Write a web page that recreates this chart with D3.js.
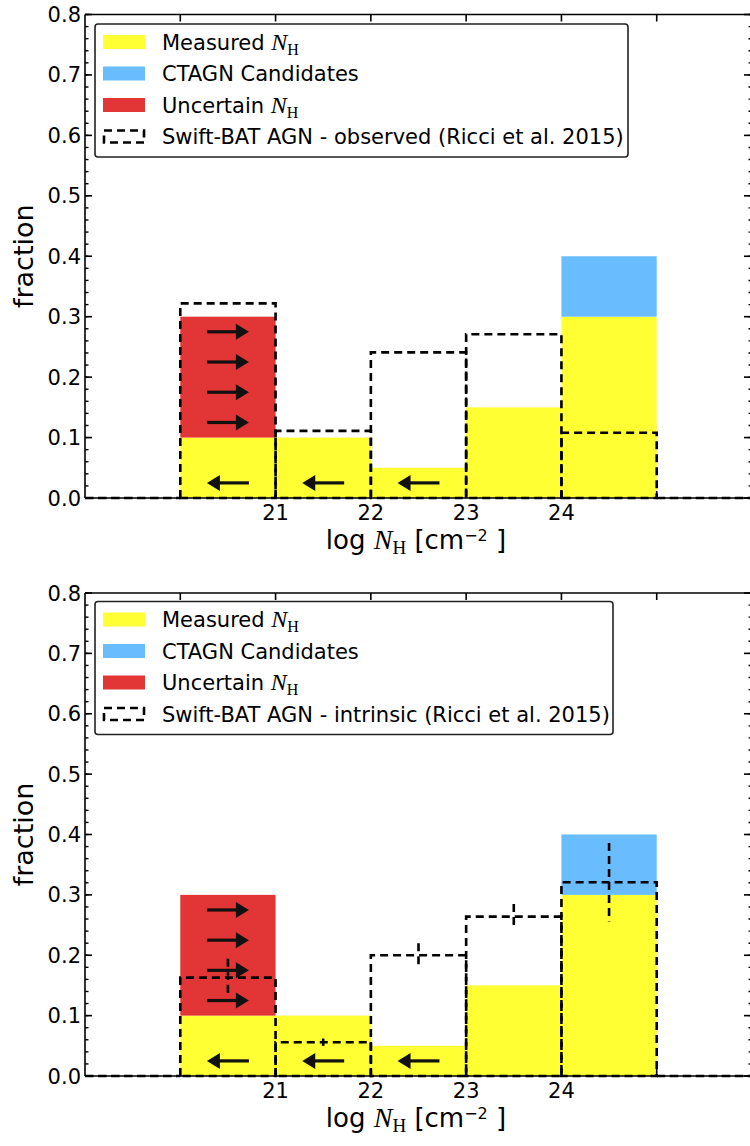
<!DOCTYPE html>
<html><head><meta charset="utf-8">
<script src="https://cdn.jsdelivr.net/npm/d3@7"></script>
<style>
html,body{margin:0;padding:0;background:#fff;}
svg{display:block;}
text{font-family:"DejaVu Sans",sans-serif;fill:#000;}
</style></head>
<body>
<svg id="chart" width="750" height="1146"></svg>
<script>
// ---------- data ----------
const binStarts = [20, 21, 22, 23, 24];
const measured = [0.10, 0.10, 0.05, 0.15, 0.30];
const uncertain = [0.20, 0, 0, 0, 0];
const ctagn = [0, 0, 0, 0, 0.10];

const ricciStarts = [19, 20, 21, 22, 23, 24, 25];
const ricciObserved = [0, 0.322, 0.111, 0.241, 0.271, 0.108, 0];
const ricciIntrinsic = [0, 0.163, 0.056, 0.200, 0.264, 0.321, 0];
const ricciIntrinsicErr = [0, 0.031, 0.006, 0.020, 0.021, 0.065, 0];

const arrowRightY = [0.275, 0.225, 0.175, 0.125];
const arrowRightBins = [20];
const arrowLeftY = [0.025];
const arrowLeftBins = [20, 21, 22];

const xTicks = [20, 21, 22, 23, 24, 25];
const xTickLabels = [21, 22, 23, 24];
const yMajor = [0, 0.1, 0.2, 0.3, 0.4, 0.5, 0.6, 0.7, 0.8];
const yMinor = d3.range(0, 0.8001, 0.02);

const legendLabelsTop = ["Measured", "CTAGN Candidates", "Uncertain", "Swift-BAT AGN - observed (Ricci et al. 2015)"];
const legendLabelsBottom = ["Measured", "CTAGN Candidates", "Uncertain", "Swift-BAT AGN - intrinsic (Ricci et al. 2015)"];

const colors = {measured: "#ffff33", ctagn: "#69bcfd", uncertain: "#e23535"};

// ---------- drawing ----------
const svg = d3.select("#chart");
const xLeft = 85, xRight = 752;
const x = d3.scaleLinear().domain([19, 26]).range([xLeft, xRight]);
const FS = 21;

function panel(top, bottom, ricci, ricciErr, legendLabels, legendBox) {
  const y = d3.scaleLinear().domain([0, 0.8]).range([bottom, top]);
  const g = svg.append("g");

  // stacked fills
  binStarts.forEach((b, i) => {
    g.append("rect").attr("x", x(b)).attr("width", x(b + 1) - x(b))
      .attr("y", y(measured[i])).attr("height", y(0) - y(measured[i]))
      .attr("fill", colors.measured);
    if (uncertain[i] > 0) g.append("rect").attr("x", x(b)).attr("width", x(b + 1) - x(b))
      .attr("y", y(measured[i] + uncertain[i])).attr("height", y(measured[i]) - y(measured[i] + uncertain[i]))
      .attr("fill", colors.uncertain);
    if (ctagn[i] > 0) g.append("rect").attr("x", x(b)).attr("width", x(b + 1) - x(b))
      .attr("y", y(measured[i] + ctagn[i])).attr("height", y(measured[i]) - y(measured[i] + ctagn[i]))
      .attr("fill", colors.ctagn);
  });

  // dashed Ricci bars
  ricciStarts.forEach((b, i) => {
    const v = ricci[i];
    const path = d3.path();
    path.moveTo(x(b), y(0));
    path.lineTo(x(b), y(v));
    path.lineTo(x(b + 1), y(v));
    path.lineTo(x(b + 1), y(0));
    path.closePath();
    g.append("path").attr("d", path.toString()).attr("fill", "none")
      .attr("stroke", "#000").attr("stroke-width", 2.6).attr("stroke-dasharray", "8,5");
  });

  // error bars
  if (ricciErr) {
    ricciStarts.forEach((b, i) => {
      if (ricciErr[i] <= 0) return;
      const cx = x(b + 0.5);
      g.append("line").attr("x1", cx).attr("x2", cx)
        .attr("y1", y(ricci[i] + ricciErr[i])).attr("y2", y(ricci[i] - ricciErr[i]))
        .attr("stroke", "#000").attr("stroke-width", 2.6).attr("stroke-dasharray", "8,5");
    });
  }

  // arrows
  function arrow(x0, x1, yy) {
    const dir = Math.sign(x1 - x0);
    const headL = 13, headW = 8;
    g.append("line").attr("x1", x0).attr("x2", x1 - dir * headL + dir * 1).attr("y1", yy).attr("y2", yy)
      .attr("stroke", "#111").attr("stroke-width", 3.2);
    g.append("path").attr("d", `M${x1},${yy} L${x1 - dir * headL},${yy - headW} L${x1 - dir * headL},${yy + headW} Z`)
      .attr("fill", "#111");
  }
  arrowRightBins.forEach(b => arrowRightY.forEach(v => arrow(x(b + 0.28), x(b + 0.72), y(v))));
  arrowLeftBins.forEach(b => arrowLeftY.forEach(v => arrow(x(b + 0.72), x(b + 0.28), y(v))));

  // spines
  const ax = svg.append("g");
  ax.append("line").attr("x1", xLeft).attr("x2", xRight).attr("y1", y(0)).attr("y2", y(0)).attr("stroke", "#000").attr("stroke-width", 1.6);
  ax.append("line").attr("x1", xLeft).attr("x2", xRight).attr("y1", y(0.8)).attr("y2", y(0.8)).attr("stroke", "#000").attr("stroke-width", 1.6);
  ax.append("line").attr("x1", xLeft).attr("x2", xLeft).attr("y1", y(0)).attr("y2", y(0.8)).attr("stroke", "#000").attr("stroke-width", 1.6);
  ax.append("line").attr("x1", xRight).attr("x2", xRight).attr("y1", y(0)).attr("y2", y(0.8)).attr("stroke", "#000").attr("stroke-width", 1.6);

  // ticks: y
  yMinor.forEach(v => {
    ax.append("line").attr("x1", xLeft).attr("x2", xLeft + 3.5).attr("y1", y(v)).attr("y2", y(v)).attr("stroke", "#000").attr("stroke-width", 1.4);
    ax.append("line").attr("x1", xRight).attr("x2", xRight - 3.5).attr("y1", y(v)).attr("y2", y(v)).attr("stroke", "#000").attr("stroke-width", 1.4);
  });
  yMajor.forEach(v => {
    ax.append("line").attr("x1", xLeft).attr("x2", xLeft + 7).attr("y1", y(v)).attr("y2", y(v)).attr("stroke", "#000").attr("stroke-width", 1.6);
    ax.append("line").attr("x1", xRight).attr("x2", xRight - 8).attr("y1", y(v)).attr("y2", y(v)).attr("stroke", "#000").attr("stroke-width", 1.6);
    ax.append("text").attr("x", xLeft - 4).attr("y", y(v)).attr("dy", "0.36em")
      .attr("text-anchor", "end").attr("font-size", FS).text(d3.format(".1f")(v));
  });
  // ticks: x
  xTicks.forEach(t => {
    ax.append("line").attr("x1", x(t)).attr("x2", x(t)).attr("y1", y(0.8)).attr("y2", y(0.8) + 7).attr("stroke", "#000").attr("stroke-width", 1.6);
    ax.append("line").attr("x1", x(t)).attr("x2", x(t)).attr("y1", y(0)).attr("y2", y(0) - 7).attr("stroke", "#000").attr("stroke-width", 1.6);
  });
  xTickLabels.forEach(t => {
    ax.append("text").attr("x", x(t)).attr("y", y(0) + 22).attr("text-anchor", "middle")
      .attr("font-size", FS).text(t);
  });

  // axis labels
  const xl = ax.append("text").attr("x", 416).attr("y", y(0) + 51).attr("text-anchor", "middle").attr("font-size", 26);
  xl.append("tspan").text("log ");
  xl.append("tspan").attr("font-family", "Liberation Serif").attr("font-style", "italic").attr("font-size", 28).text("N");
  xl.append("tspan").attr("font-family", "Liberation Serif").attr("font-size", 19).attr("dy", 5).text("H");
  xl.append("tspan").attr("dy", -5).text(" [cm");
  xl.append("tspan").attr("font-size", 16).attr("dy", -8).text("−2");
  xl.append("tspan").attr("dy", 8).text(" ]");

  ax.append("text").attr("transform", `translate(33,${(y(0) + y(0.8)) / 2}) rotate(-90)`)
    .attr("text-anchor", "middle").attr("font-size", 27).text("fraction");

  // legend
  const lg = svg.append("g");
  lg.append("rect").attr("x", legendBox[0]).attr("y", legendBox[1]).attr("width", legendBox[2]).attr("height", legendBox[3])
    .attr("rx", 3).attr("fill", "#fff").attr("stroke", "#222").attr("stroke-width", 1.6);
  const rowH = 31.5;
  const fills = [colors.measured, colors.ctagn, colors.uncertain, null];
  legendLabels.forEach((lab, i) => {
    const cy = legendBox[1] + 18 + i * rowH;
    if (fills[i]) {
      lg.append("rect").attr("x", legendBox[0] + 8).attr("y", cy - 7).attr("width", 42).attr("height", 14).attr("fill", fills[i]);
    } else {
      lg.append("rect").attr("x", legendBox[0] + 9).attr("y", cy - 6).attr("width", 40).attr("height", 12)
        .attr("fill", "none").attr("stroke", "#000").attr("stroke-width", 2.6).attr("stroke-dasharray", "8,5");
    }
    const t = lg.append("text").attr("x", legendBox[0] + 67).attr("y", cy).attr("dy", "0.36em").attr("font-size", FS);
    t.append("tspan").text(lab);
    if (i === 0 || i === 2) {
      t.append("tspan").text(" ");
      t.append("tspan").attr("font-family", "Liberation Serif").attr("font-style", "italic").attr("font-size", 24).text("N");
      t.append("tspan").attr("font-family", "Liberation Serif").attr("font-size", 16).attr("dy", 5).text("H");
    }
  });
}

panel(14.5, 498, ricciObserved, null, legendLabelsTop, [95, 24, 533, 133]);
panel(593, 1076, ricciIntrinsic, ricciIntrinsicErr, legendLabelsBottom, [95, 601.5, 518, 133]);
</script>
</body></html>
